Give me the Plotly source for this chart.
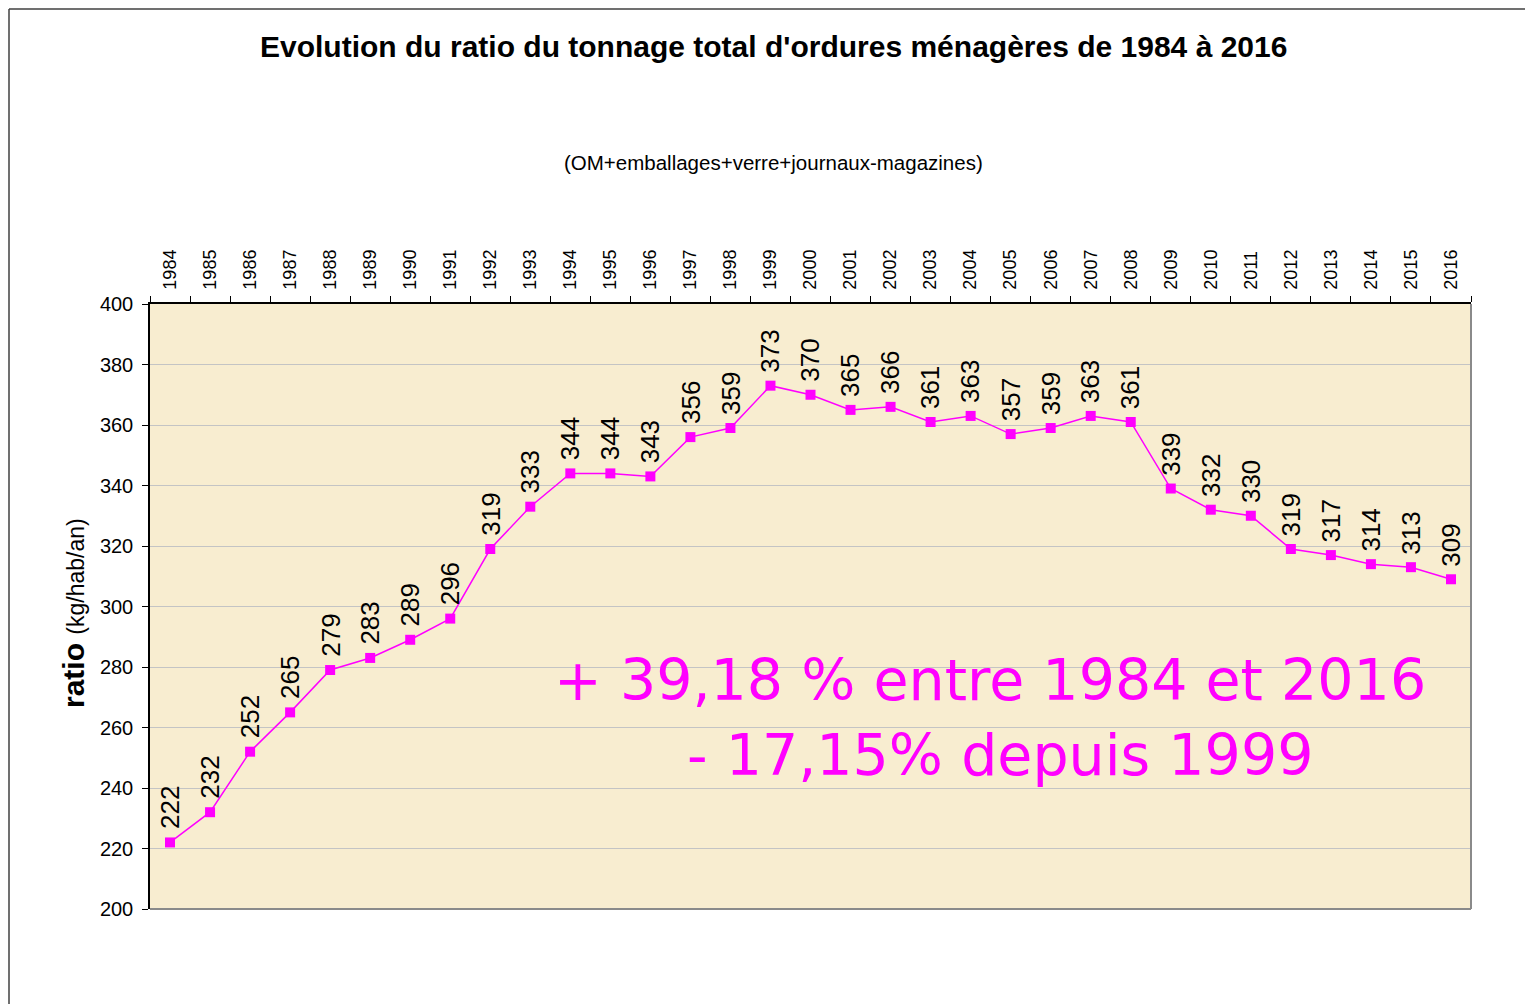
import plotly.graph_objects as go

years = [str(y) for y in range(1984, 2017)]
ratio = [222, 232, 252, 265, 279, 283, 289, 296, 319, 333, 344, 344, 343, 356, 359,
         373, 370, 365, 366, 361, 363, 357, 359, 363, 361, 339, 332, 330, 319, 317,
         314, 313, 309]
y_ticks = list(range(200, 401, 20))

title_text = "Evolution du ratio du tonnage total d'ordures ménagères de 1984 à 2016"
subtitle_text = "(OM+emballages+verre+journaux-magazines)"
note_line1 = "+ 39,18 % entre 1984 et 2016"
note_line2 = "- 17,15% depuis 1999"

MAG = "#FF00FF"
FONT = "Liberation Sans, Arial, sans-serif"

# page (screenshot) pixel geometry; the html body adds an 8px margin
OFF = 8
PAGE_W, PAGE_H = 1533, 1004
L, R, T, B = 150, 1471, 304, 909
W, H = R - L, B - T


def px(x):
    return (x - L) / W


def py(y):
    return (B - y) / H


fig = go.Figure()
fig.add_trace(go.Scatter(
    x=years, y=ratio, mode="lines+markers",
    line=dict(color=MAG, width=1.5),
    marker=dict(symbol="square", size=10, color=MAG),
    hoverinfo="x+y", showlegend=False,
))

annotations = []
for i, v in enumerate(ratio):
    annotations.append(dict(
        x=i, y=v, xref="x", yref="y", text=str(v), textangle=-90,
        showarrow=False, xanchor="center", yanchor="bottom", yshift=11,
        font=dict(family=FONT, size=26, color="#000000"),
    ))

extra = [
    ("<b>" + title_text + "</b>", 773, 47, 30, FONT, "#000000", 0),
    (subtitle_text, 773, 163, 20.5, FONT, "#000000", 0),
    ("<b>ratio</b> <span style='font-size:23px'>(kg/hab/an)</span>", 73, 613, 30, FONT, "#000000", -90),
    (note_line1, 990, 680, 57, "DejaVu Sans", MAG, 0),
    (note_line2, 1000, 755, 57, "DejaVu Sans", MAG, 0),
]
for text, x, y, size, fam, col, ang in extra:
    annotations.append(dict(
        text=text, x=px(x), y=py(y), xref="paper", yref="paper",
        xanchor="center", yanchor="middle", showarrow=False, textangle=ang,
        font=dict(family=fam, size=size, color=col),
    ))

shapes = [
    # outer frame (left & top)
    dict(type="line", xref="paper", yref="paper", x0=px(9), x1=px(9), y0=py(1010), y1=py(9),
         line=dict(color="#404040", width=1.5)),
    dict(type="line", xref="paper", yref="paper", x0=px(9), x1=px(1540), y0=py(9), y1=py(9),
         line=dict(color="#404040", width=1.5)),
    # plot border right & bottom (grey)
    dict(type="line", xref="paper", yref="paper", x0=1, x1=1, y0=0, y1=1,
         line=dict(color="#8A8A8A", width=2)),
    dict(type="line", xref="paper", yref="paper", x0=0, x1=1, y0=0, y1=0,
         line=dict(color="#8A8A8A", width=2)),
]

fig_w, fig_h = PAGE_W - OFF, PAGE_H - OFF
fig.update_layout(
    width=fig_w, height=fig_h,
    margin=dict(l=L - OFF, r=fig_w - (R - OFF), t=T - OFF, b=fig_h - (B - OFF), pad=0),
    paper_bgcolor="#FFFFFF",
    plot_bgcolor="#F8EDD0",
    annotations=annotations,
    shapes=shapes,
    font=dict(family=FONT, color="#000000"),
)
fig.update_xaxes(
    type="category", side="top", tickangle=-90,
    tickfont=dict(family=FONT, size=18, color="#000000"),
    showgrid=False, showline=True, linecolor="#000000", linewidth=1.5,
    ticks="outside", tickson="boundaries", ticklen=6, tickcolor="#000000",
    ticklabelstandoff=9,
    range=[-0.5, len(years) - 0.5], zeroline=False, fixedrange=True,
)
fig.update_yaxes(
    range=[200, 400], tickvals=y_ticks,
    tickfont=dict(family=FONT, size=20, color="#000000"),
    showgrid=True, gridcolor="#C4C4C4", gridwidth=1,
    showline=True, linecolor="#000000", linewidth=1.5,
    ticks="outside", ticklen=6, tickcolor="#000000", zeroline=False,
    ticklabelstandoff=5,
    fixedrange=True,
)

fig.write_html("out.html")
